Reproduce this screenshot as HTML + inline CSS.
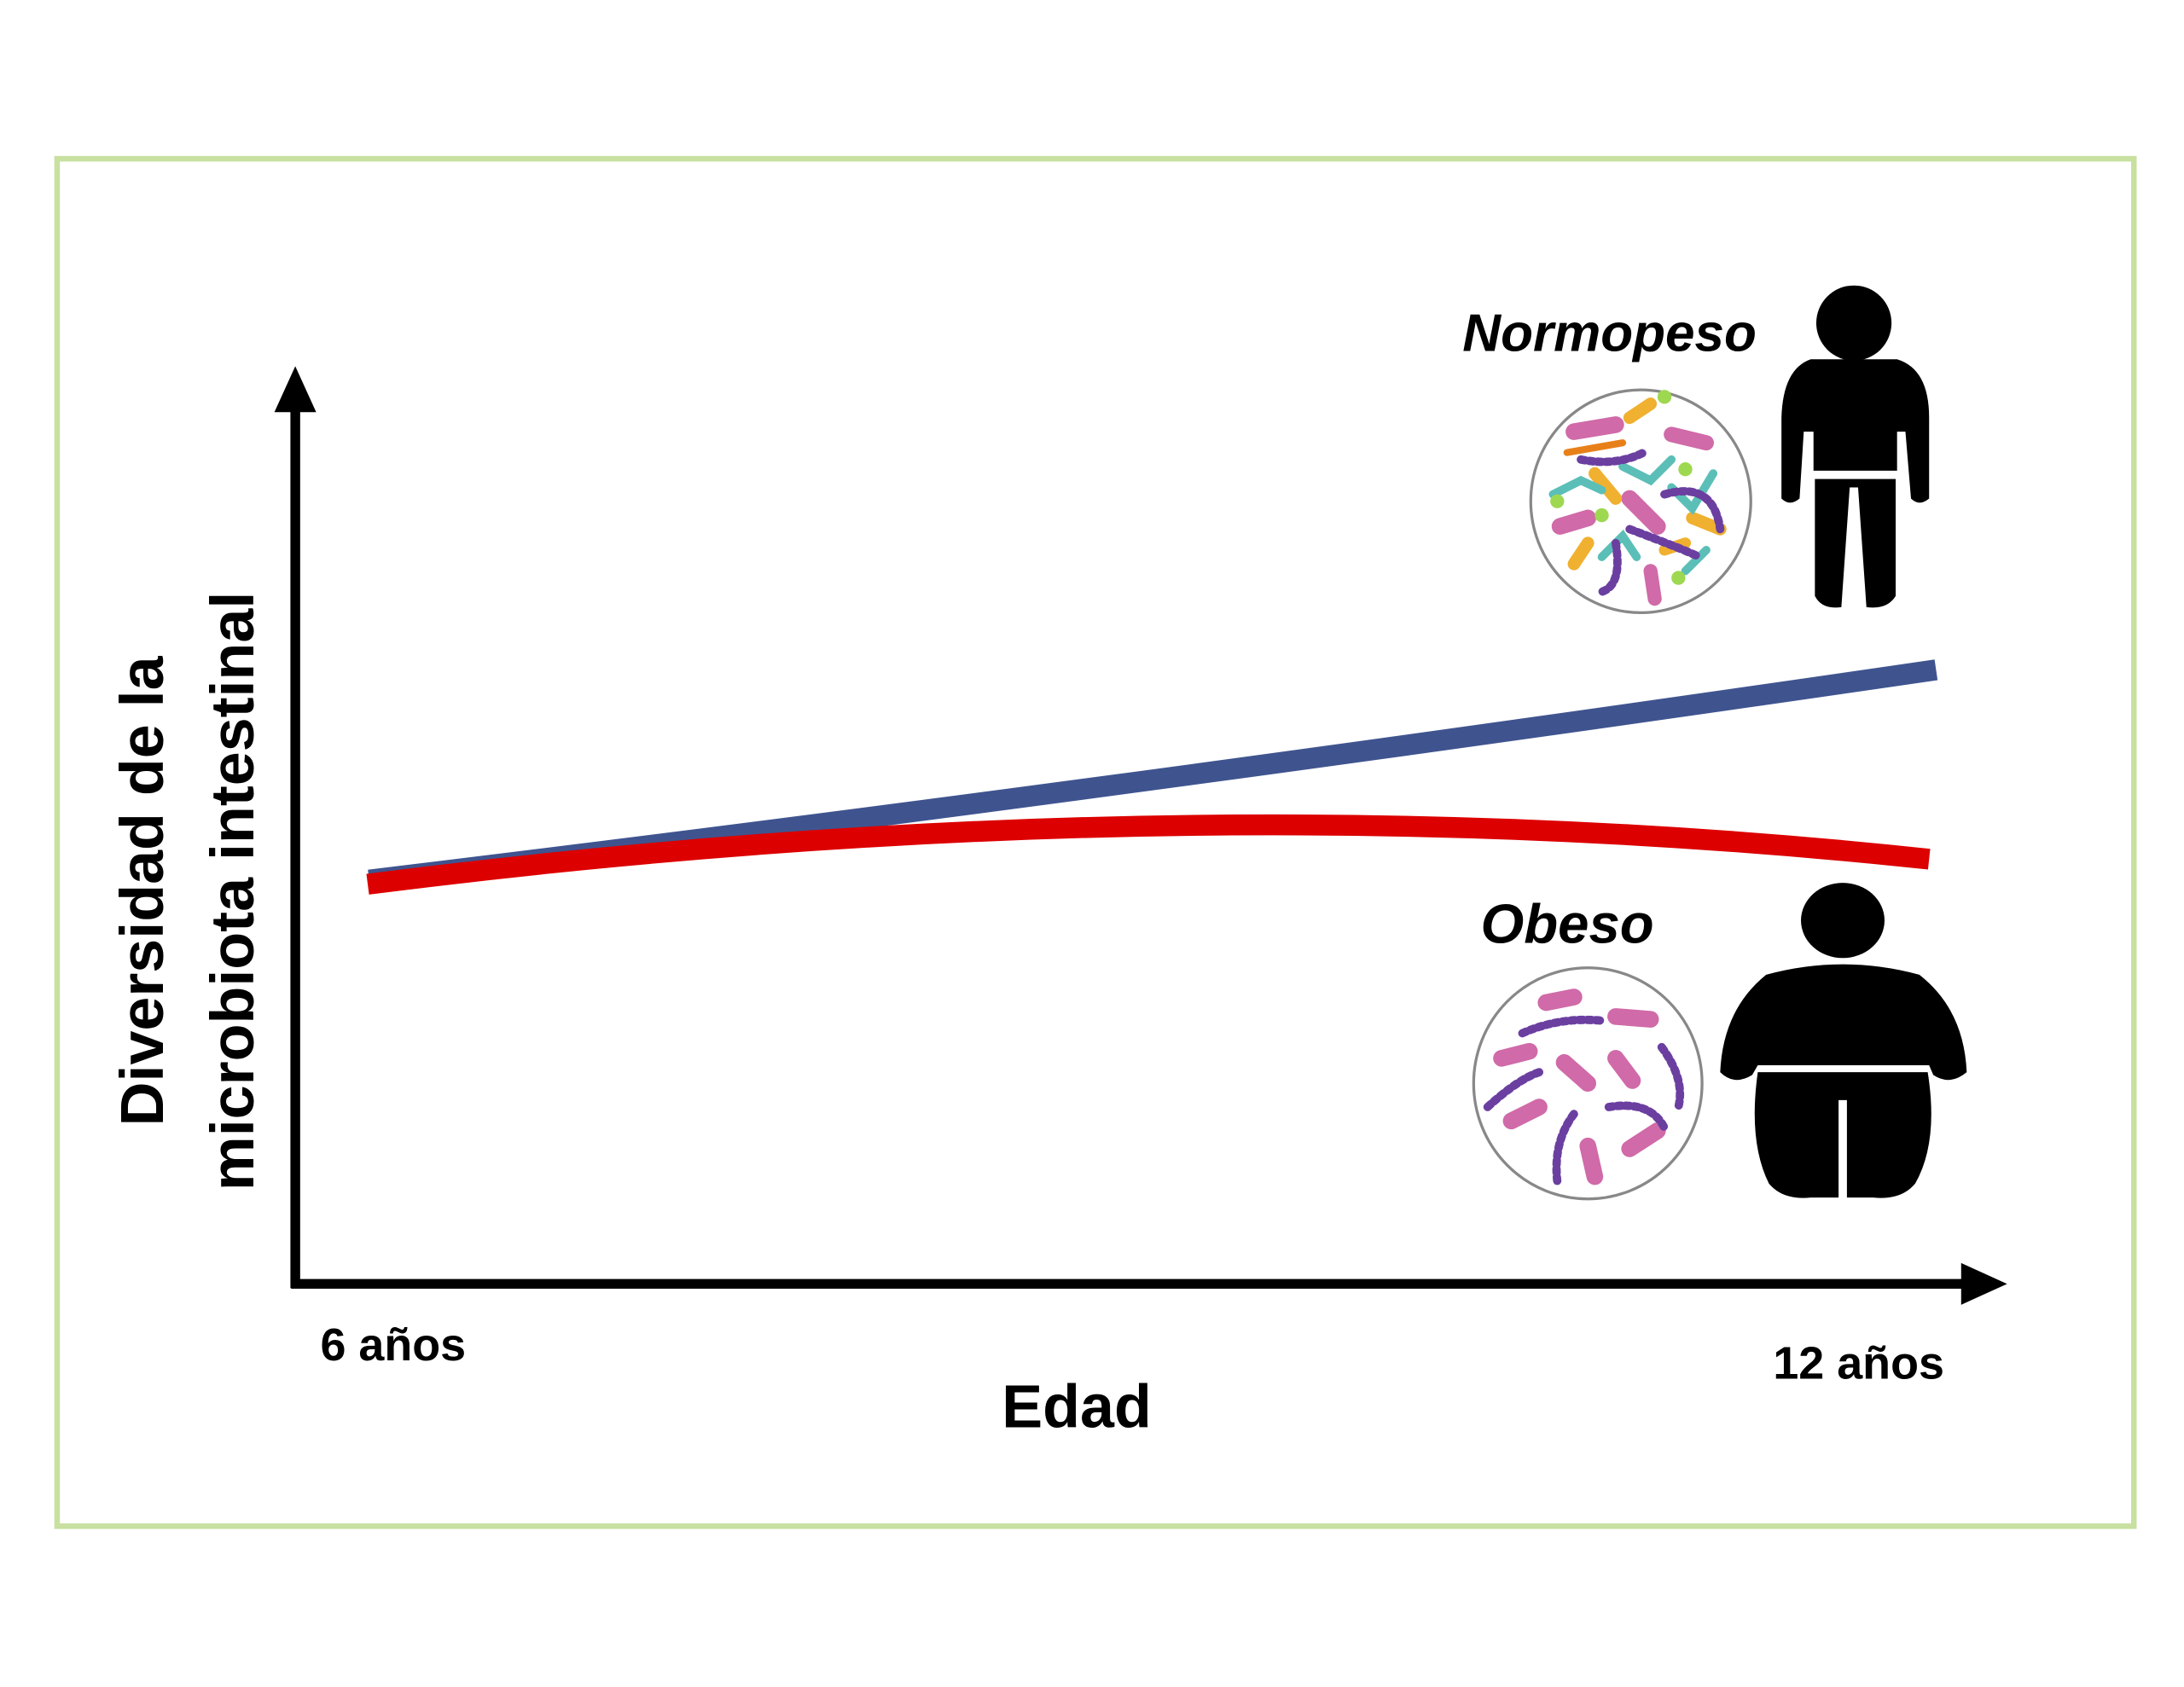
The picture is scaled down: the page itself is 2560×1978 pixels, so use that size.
<!DOCTYPE html>
<html><head><meta charset="utf-8"><style>html,body{margin:0;padding:0;background:#fff}svg{display:block}</style></head>
<body>
<svg width="2560" height="1978" viewBox="0 0 1568 1211.5" preserveAspectRatio="none" xmlns="http://www.w3.org/2000/svg">
<rect x="41" y="114" width="1491" height="982" fill="none" stroke="#c8e0a0" stroke-width="4"/>
<!-- axes -->
<line x1="212" y1="290" x2="212" y2="925" stroke="#000" stroke-width="7"/>
<polygon points="212,263 197,296 227,296" fill="#000"/>
<line x1="209" y1="922" x2="1412" y2="922" stroke="#000" stroke-width="7"/>
<polygon points="1441,922 1408,907 1408,937" fill="#000"/>
<!-- lines -->
<path d="M265,632 Q780,570 1390,481" fill="none" stroke="#3f548f" stroke-width="15"/>
<path d="M264,635 Q850,560 1385,617" fill="none" stroke="#dc0000" stroke-width="15"/>
<!-- text -->
<g font-family="Liberation Sans, sans-serif" font-weight="bold" fill="#000">
<text x="230" y="977" font-size="33">6 años</text>
<text x="1273" y="990" font-size="33">12 años</text>
<text x="773" y="1025" font-size="44" text-anchor="middle">Edad</text>
<text transform="translate(117,640) rotate(-90)" font-size="44" text-anchor="middle">Diversidad de la</text>
<text transform="translate(182,640) rotate(-90)" font-size="44" text-anchor="middle">microbiota intestinal</text>
<text x="1050" y="252" font-size="38" font-style="italic">Normopeso</text>
<text x="1063" y="677" font-size="40" font-style="italic">Obeso</text>
</g>
<!-- circles -->
<ellipse cx="1178" cy="360" rx="79" ry="80" fill="#fff" stroke="#888" stroke-width="2"/>
<g stroke-linecap="round">
<line x1="1130" y1="310" x2="1160" y2="305" stroke="#d06aa8" stroke-width="12"/>
<line x1="1200" y1="312" x2="1225" y2="318" stroke="#d06aa8" stroke-width="11"/>
<line x1="1170" y1="358" x2="1190" y2="378" stroke="#d06aa8" stroke-width="12"/>
<line x1="1120" y1="378" x2="1140" y2="372" stroke="#d06aa8" stroke-width="12"/>
<line x1="1185" y1="410" x2="1188" y2="430" stroke="#d06aa8" stroke-width="10"/>
<line x1="1125" y1="325" x2="1165" y2="318" stroke="#e8801a" stroke-width="5"/>
<line x1="1170" y1="300" x2="1185" y2="290" stroke="#f0b030" stroke-width="9"/>
<line x1="1145" y1="340" x2="1160" y2="358" stroke="#f0b030" stroke-width="9"/>
<line x1="1215" y1="372" x2="1235" y2="380" stroke="#f0b030" stroke-width="9"/>
<line x1="1130" y1="405" x2="1140" y2="390" stroke="#f0b030" stroke-width="9"/>
<line x1="1195" y1="395" x2="1210" y2="390" stroke="#f0b030" stroke-width="8"/>
<path d="M1115,355 L1135,345 L1150,352 M1165,335 L1185,345 L1200,330 M1200,350 L1215,365 L1230,340 M1150,400 L1165,385 L1175,400 M1210,410 L1225,395" fill="none" stroke="#5bbfb8" stroke-width="6"/>
<path d="M1135,330 Q1160,335 1180,325 M1195,355 Q1230,345 1235,380 M1160,390 Q1165,420 1150,425 M1170,380 Q1210,395 1220,400" fill="none" stroke="#6b3fa0" stroke-width="6" stroke-dasharray="3 3"/>
<circle cx="1195" cy="285" r="5" fill="#9ed850"/><circle cx="1118" cy="360" r="5" fill="#9ed850"/><circle cx="1150" cy="370" r="5" fill="#9ed850"/><circle cx="1210" cy="337" r="5" fill="#9ed850"/><circle cx="1205" cy="415" r="5" fill="#9ed850"/>
</g>
<ellipse cx="1140" cy="778" rx="82" ry="83" fill="#fff" stroke="#888" stroke-width="2"/>
<g stroke-linecap="round" fill="none">
<path d="M1110,720 L1130,716 M1160,730 L1185,732 M1078,760 L1098,755 M1123,763 L1140,778 M1160,760 L1172,776 M1085,805 L1105,795 M1140,823 L1145,845 M1170,825 L1190,812" stroke="#d06aa8" stroke-width="12"/>
<path d="M1093,742 Q1120,730 1150,733 M1193,752 Q1210,775 1205,795 M1068,795 Q1090,775 1105,770 M1130,800 Q1115,820 1118,848 M1155,795 Q1185,790 1195,810" stroke="#6b3fa0" stroke-width="6" stroke-dasharray="3 3"/>
</g>
<!-- normal person -->
<g fill="#000">
<circle cx="1331" cy="232" r="27"/>
<path d="M1300,258 L1362,258 Q1385,265 1385,300 L1385,358 Q1378,364 1372,358 L1368,310 L1362,310 L1362,338 L1302,338 L1302,310 L1295,310 L1292,358 Q1285,364 1279,358 L1279,300 Q1280,265 1300,258 Z"/>
<path d="M1303,344 L1361,344 L1361,428 Q1355,438 1340,436 L1334,350 L1328,350 L1322,436 Q1308,438 1303,428 Z"/>
</g>
<!-- obese person -->
<g fill="#000">
<ellipse cx="1323" cy="661" rx="30" ry="27"/>
<path d="M1268,700 Q1323,685 1378,700 Q1410,725 1412,770 Q1400,780 1388,772 L1385,765 L1262,765 L1258,772 Q1245,780 1235,770 Q1237,725 1268,700 Z"/>
<path d="M1262,770 L1384,770 Q1392,820 1375,850 Q1365,862 1345,860 L1326,860 L1326,790 L1320,790 L1320,860 L1300,860 Q1280,862 1270,850 Q1255,820 1262,770 Z"/>
</g>
</svg>
</body></html>
